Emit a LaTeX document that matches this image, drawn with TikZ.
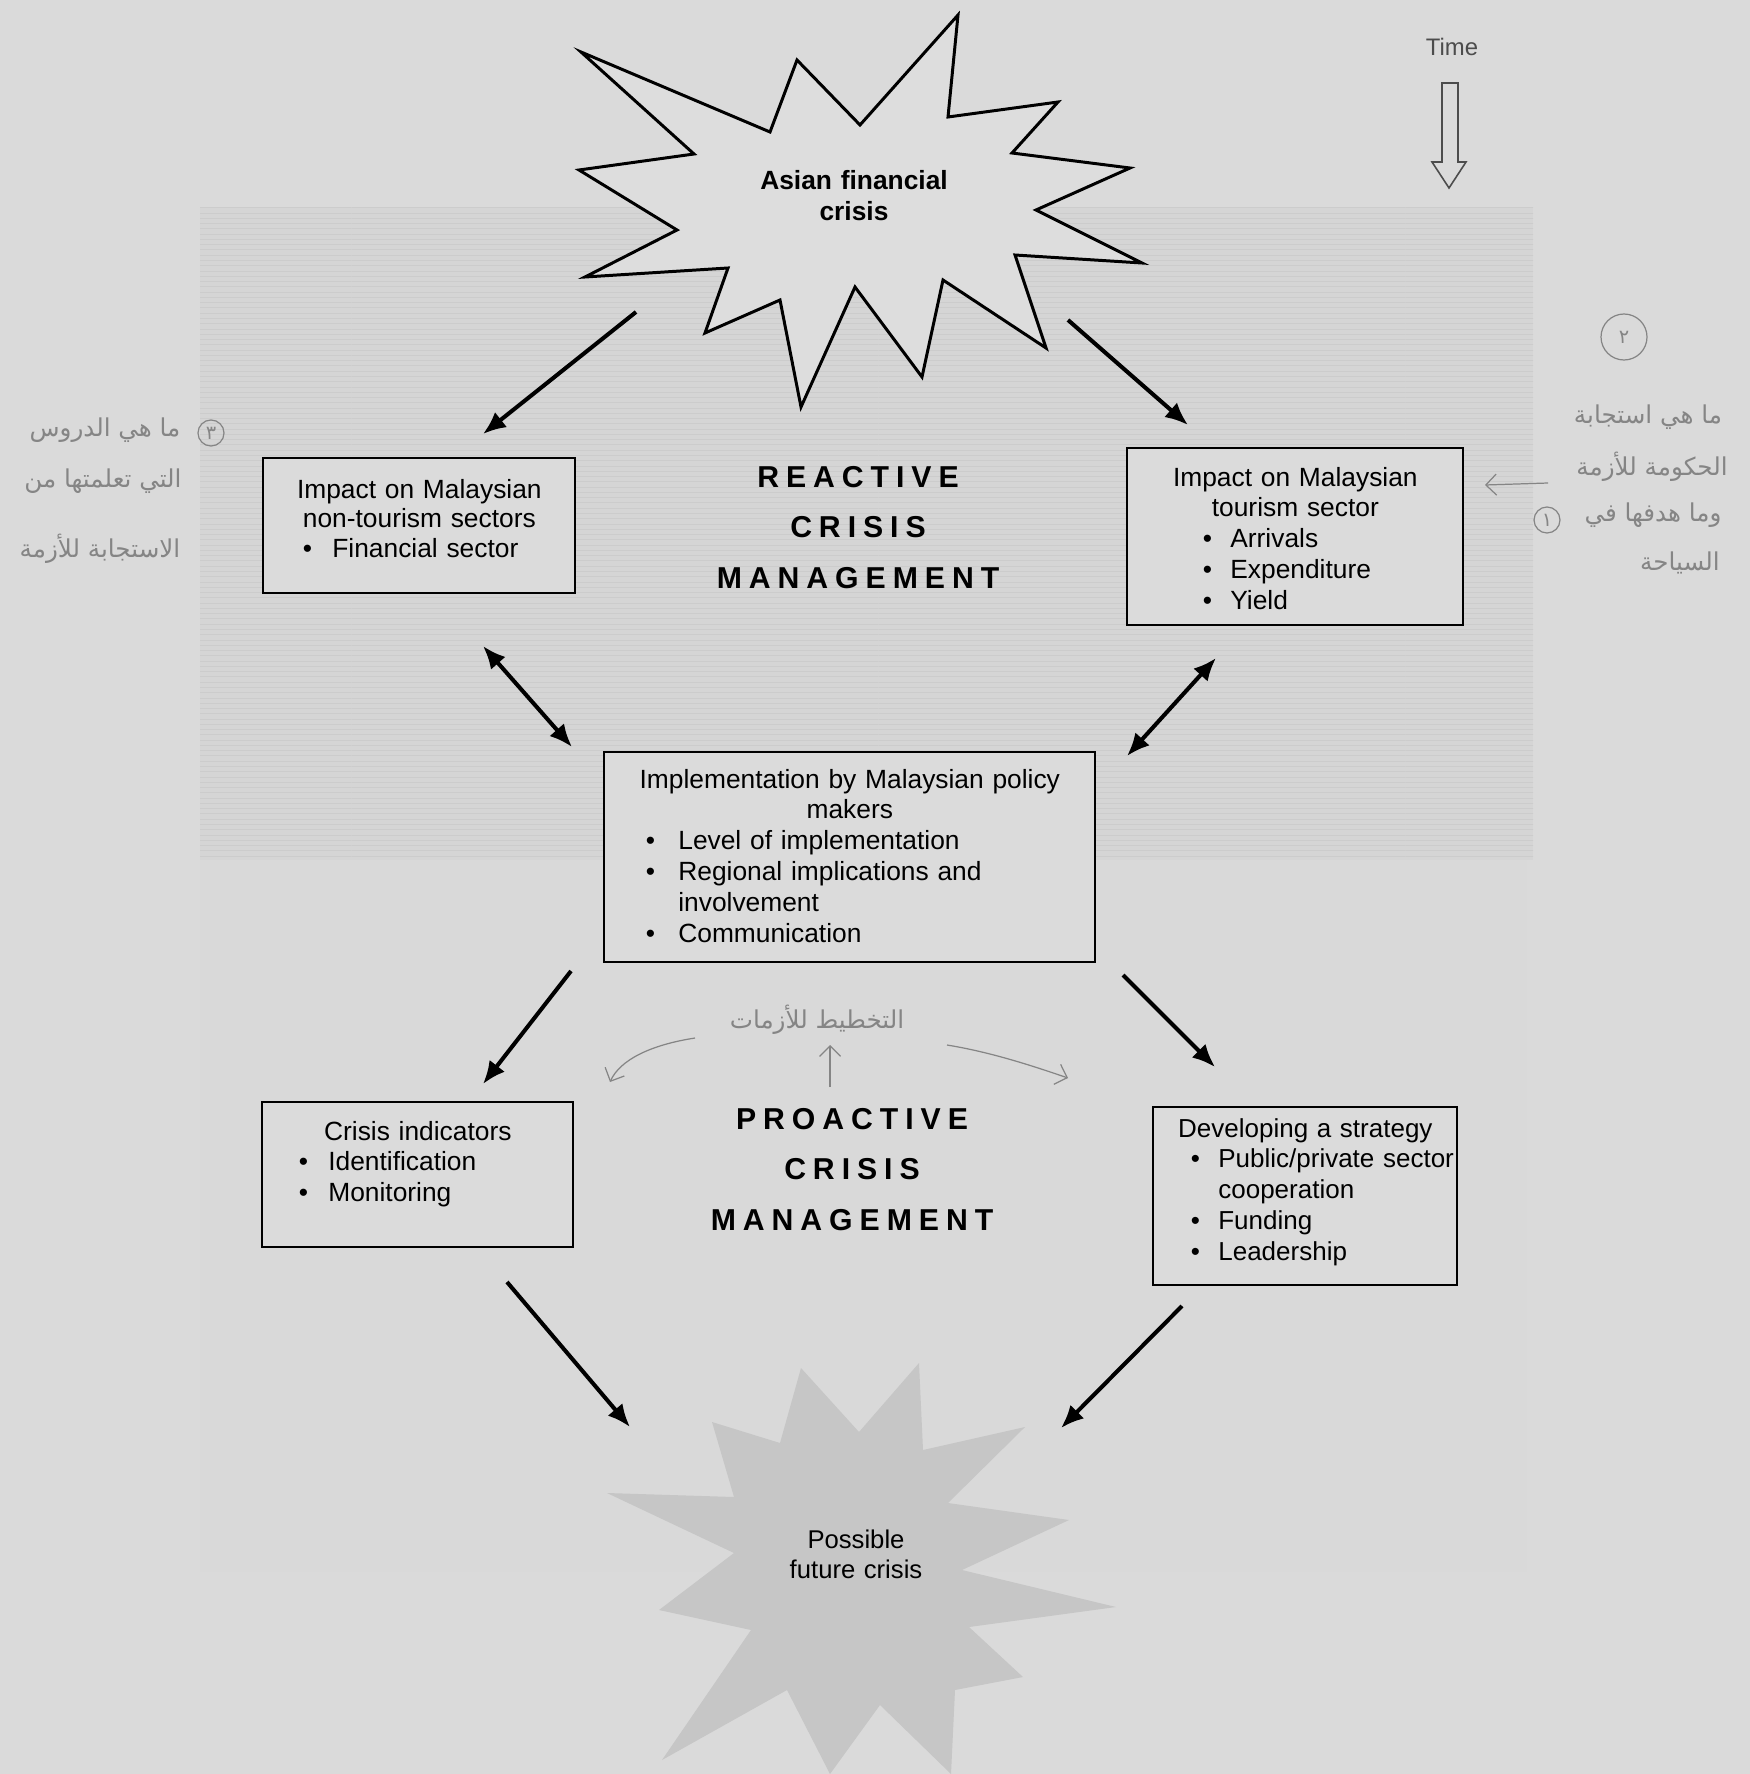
\documentclass[tikz,border=0pt]{standalone}
\usepackage{fontspec}
\setmainfont{Liberation Sans}
\newfontfamily\spacedfont[LetterSpace=23]{Liberation Sans}
\newfontfamily\arabicfont[Script=Arabic]{DejaVu Sans}
\TeXXeTstate=1
\usetikzlibrary{arrows.meta,fit,patterns}
\newlength\px \setlength\px{0.02cm}
\newcommand\bitem[3]{\hspace*{#1\px}\makebox[#2\px][l]{\textbullet}#3\par}
\newcommand\cont[2]{\hspace*{#1\px}#2\par}
\definecolor{pagebg}{gray}{0.855}
\definecolor{bandbg}{gray}{0.835}
\definecolor{bandline}{gray}{0.80}
\definecolor{lowbg}{gray}{0.85}
\definecolor{boxbg}{gray}{0.86}
\definecolor{starfill}{gray}{0.865}
\definecolor{futstar}{gray}{0.775}
\definecolor{pen}{gray}{0.52}
\definecolor{timegray}{gray}{0.3}
\begin{document}
\begin{tikzpicture}[x=0.02cm,y=-0.02cm,
  box/.style={draw=black, line width=1.3pt, fill=boxbg, inner sep=0pt},
  txt/.style={anchor=base west, inner sep=0pt, font=\fontsize{15}{17.6}\selectfont},
  arr/.style={line width=2.3pt, -{Latex[length=13pt,width=11pt]}},
  darr/.style={line width=2.3pt, {Latex[length=13pt,width=11pt]}-{Latex[length=13pt,width=11pt]}},
  head/.style={anchor=base, align=center, text width=8cm, inner sep=0pt, font={\spacedfont\bfseries\fontsize{17.2}{29}\selectfont}},
  hand/.style={text=pen, inner sep=0pt, font={\arabicfont\fontsize{14}{16}\selectfont}},
  handarr/.style={draw=pen, line width=0.7pt, -{Straight Barb[length=6pt,width=12pt]}},
  circ/.style={draw=pen, line width=0.7pt, circle, inner sep=1pt, text=pen, font={\arabicfont\fontsize{11}{12}\selectfont}},
]
\useasboundingbox (0,0) rectangle (1750,1774);
% background
\fill[pagebg] (0,0) rectangle (1750,1774);
\fill[lowbg] (200,860) rectangle (1527,1572);
\fill[bandbg] (200,207) rectangle (1533,860);
\fill[pattern=horizontal lines, pattern color=bandline] (200,207) rectangle (1533,860);

% top star
\draw[line width=1.7pt, fill=starfill, line join=miter]
  (581,52) -- (770,132) -- (797,60) -- (860,125) -- (958,15) -- (948,117)
  -- (1058,102) -- (1012,153) -- (1130,168) -- (1036,210) -- (1142,263)
  -- (1015,255) -- (1046,348) -- (943,280) -- (922,377) -- (855,287)
  -- (801,407) -- (780,300) -- (705,333) -- (728,268) -- (585,277)
  -- (677,230) -- (579,170) -- (694,154) -- cycle;
\node[anchor=base, align=center, text width=6cm, inner sep=0pt,
  font=\bfseries\fontsize{15}{17.6}\selectfont] (asian) at (854,190) {Asian financial\\crisis};

% bottom star
\fill[futstar]
  (801,1368) -- (859,1432) -- (919,1363) -- (923,1450) -- (1025,1427)
  -- (948,1503) -- (1069,1520) -- (962,1570) -- (1116,1607) -- (969,1627)
  -- (1023,1677) -- (955,1690) -- (951,1774) -- (880,1705) -- (830,1774)
  -- (787,1690) -- (662,1760) -- (751,1630) -- (659,1610) -- (734,1553)
  -- (607,1493) -- (734,1497) -- (712,1422) -- (780,1443) -- cycle;
\node[anchor=base, align=center, text width=6cm, inner sep=0pt,
  font=\fontsize{14.6}{17.07}\selectfont] (future) at (856,1548) {Possible\\future crisis};

% time
\node[anchor=base, inner sep=0pt, text=timegray, font=\fontsize{13.6}{16}\selectfont] (time) at (1452,56) {Time};
\draw[draw=timegray, line width=0.9pt, line join=miter]
  (1442,83) -- (1458,83) -- (1458,162) -- (1466,162) -- (1449,188) -- (1432,162) -- (1442,162) -- cycle;

% boxes
\node[box, fit={(263,458) (575,593)}] (bL) {};
\node[box, fit={(1127,448) (1463,625)}] (bR) {};
\node[box, fit={(604,752) (1095,962)}] (bM) {};
\node[box, fit={(262,1102) (573,1247)}] (bCL) {};
\node[box, fit={(1153,1107) (1457,1285)}] (bCR) {};

\node[txt, text width=6.24cm, font=\fontsize{15}{17.07}\selectfont] (tL) at (263,498)
  {{\centering Impact on Malaysian\par non-tourism sectors\par}\bitem{39.5}{29.5}{Financial sector}};
\node[txt, text width=6.72cm] (tR) at (1127,486)
  {{\centering Impact on Malaysian\par tourism sector\par}\bitem{75.5}{27.5}{Arrivals}\bitem{75.5}{27.5}{Expenditure}\bitem{75.5}{27.5}{Yield}};
\node[txt, text width=9.82cm] (tM) at (604,788)
  {{\centering Implementation by Malaysian policy\par makers\par}\bitem{41.5}{32.5}{Level of implementation}\bitem{41.5}{32.5}{Regional implications and}\cont{74}{involvement}\bitem{41.5}{32.5}{Communication}};
\node[txt, text width=6.22cm] (tCL) at (262,1140)
  {{\centering Crisis indicators\par}\bitem{36.5}{29.5}{Identification}\bitem{36.5}{29.5}{Monitoring}};
\node[txt, text width=6.08cm, font=\fontsize{14.8}{17.6}\selectfont] (tCR) at (1153,1137)
  {{\centering Developing a strategy\par}\bitem{37.5}{27.5}{Public/private sector}\cont{65}{cooperation}\bitem{37.5}{27.5}{Funding}\bitem{37.5}{27.5}{Leadership}};

% headings
\node[head] (reactive) at (858,487) {REACTIVE\\CRISIS\\MANAGEMENT};
\node[head] (proactive) at (852,1129) {PROACTIVE\\CRISIS\\MANAGEMENT};

% arrows
\coordinate (a1s) at (636,312);  \coordinate (a1e) at (483,434);
\coordinate (a2s) at (1068,320); \coordinate (a2e) at (1188,425);
\coordinate (a3s) at (483,646);  \coordinate (a3e) at (572,747);
\coordinate (a4s) at (1216,658); \coordinate (a4e) at (1127,756);
\coordinate (a5s) at (571,971);  \coordinate (a5e) at (483,1084);
\coordinate (a6s) at (1123,975); \coordinate (a6e) at (1215,1067);
\coordinate (a7s) at (507,1282); \coordinate (a7e) at (630,1427);
\coordinate (a8s) at (1182,1306);\coordinate (a8e) at (1061,1428);
\draw[arr] (a1s) -- (a1e);
\draw[arr] (a2s) -- (a2e);
\draw[darr] (a3s) -- (a3e);
\draw[darr] (a4s) -- (a4e);
\draw[arr] (a5s) -- (a5e);
\draw[arr] (a6s) -- (a6e);
\draw[arr] (a7s) -- (a7e);
\draw[arr] (a8s) -- (a8e);

% handwritten notes
\node[hand] (hl1) at (105,430) {\beginR ما هي الدروس\endR};
\node[hand] (hl2) at (103,481) {\beginR التي تعلمتها من\endR};
\node[hand] (hl3) at (100,549) {\beginR الاستجابة للأزمة\endR};
\node[circ, minimum size=26\px] (c3) at (211,433) {٣};

\node[circ, minimum size=46\px] (c2) at (1624,337) {٢};
\node[hand] (hr1) at (1648,417) {\beginR ما هي استجابة\endR};
\node[hand] (hr2) at (1652,467) {\beginR الحكومة للأزمة\endR};
\node[hand] (hr3) at (1653,515) {\beginR وما هدفها في\endR};
\node[hand] (hr4) at (1680,563) {\beginR السياحة\endR};
\node[circ, minimum size=26\px] (c1) at (1547,520) {١};
\coordinate (hrs) at (1548,483); \coordinate (hre) at (1485,485);
\draw[handarr] (hrs) -- (hre);

\node[hand] (hm) at (817,1020) {\beginR التخطيط للأزمات\endR};
\coordinate (hm1s) at (695,1038); \coordinate (hm1e) at (610,1082);
\coordinate (hm2s) at (830,1087); \coordinate (hm2e) at (830,1045);
\coordinate (hm3s) at (947,1045); \coordinate (hm3e) at (1068,1078);
\draw[handarr] (hm1s) .. controls (650,1045) and (620,1060) .. (hm1e);
\draw[handarr] (hm2s) -- (hm2e);
\draw[handarr] (hm3s) .. controls (990,1052) and (1030,1065) .. (hm3e);
\end{tikzpicture}
\end{document}
